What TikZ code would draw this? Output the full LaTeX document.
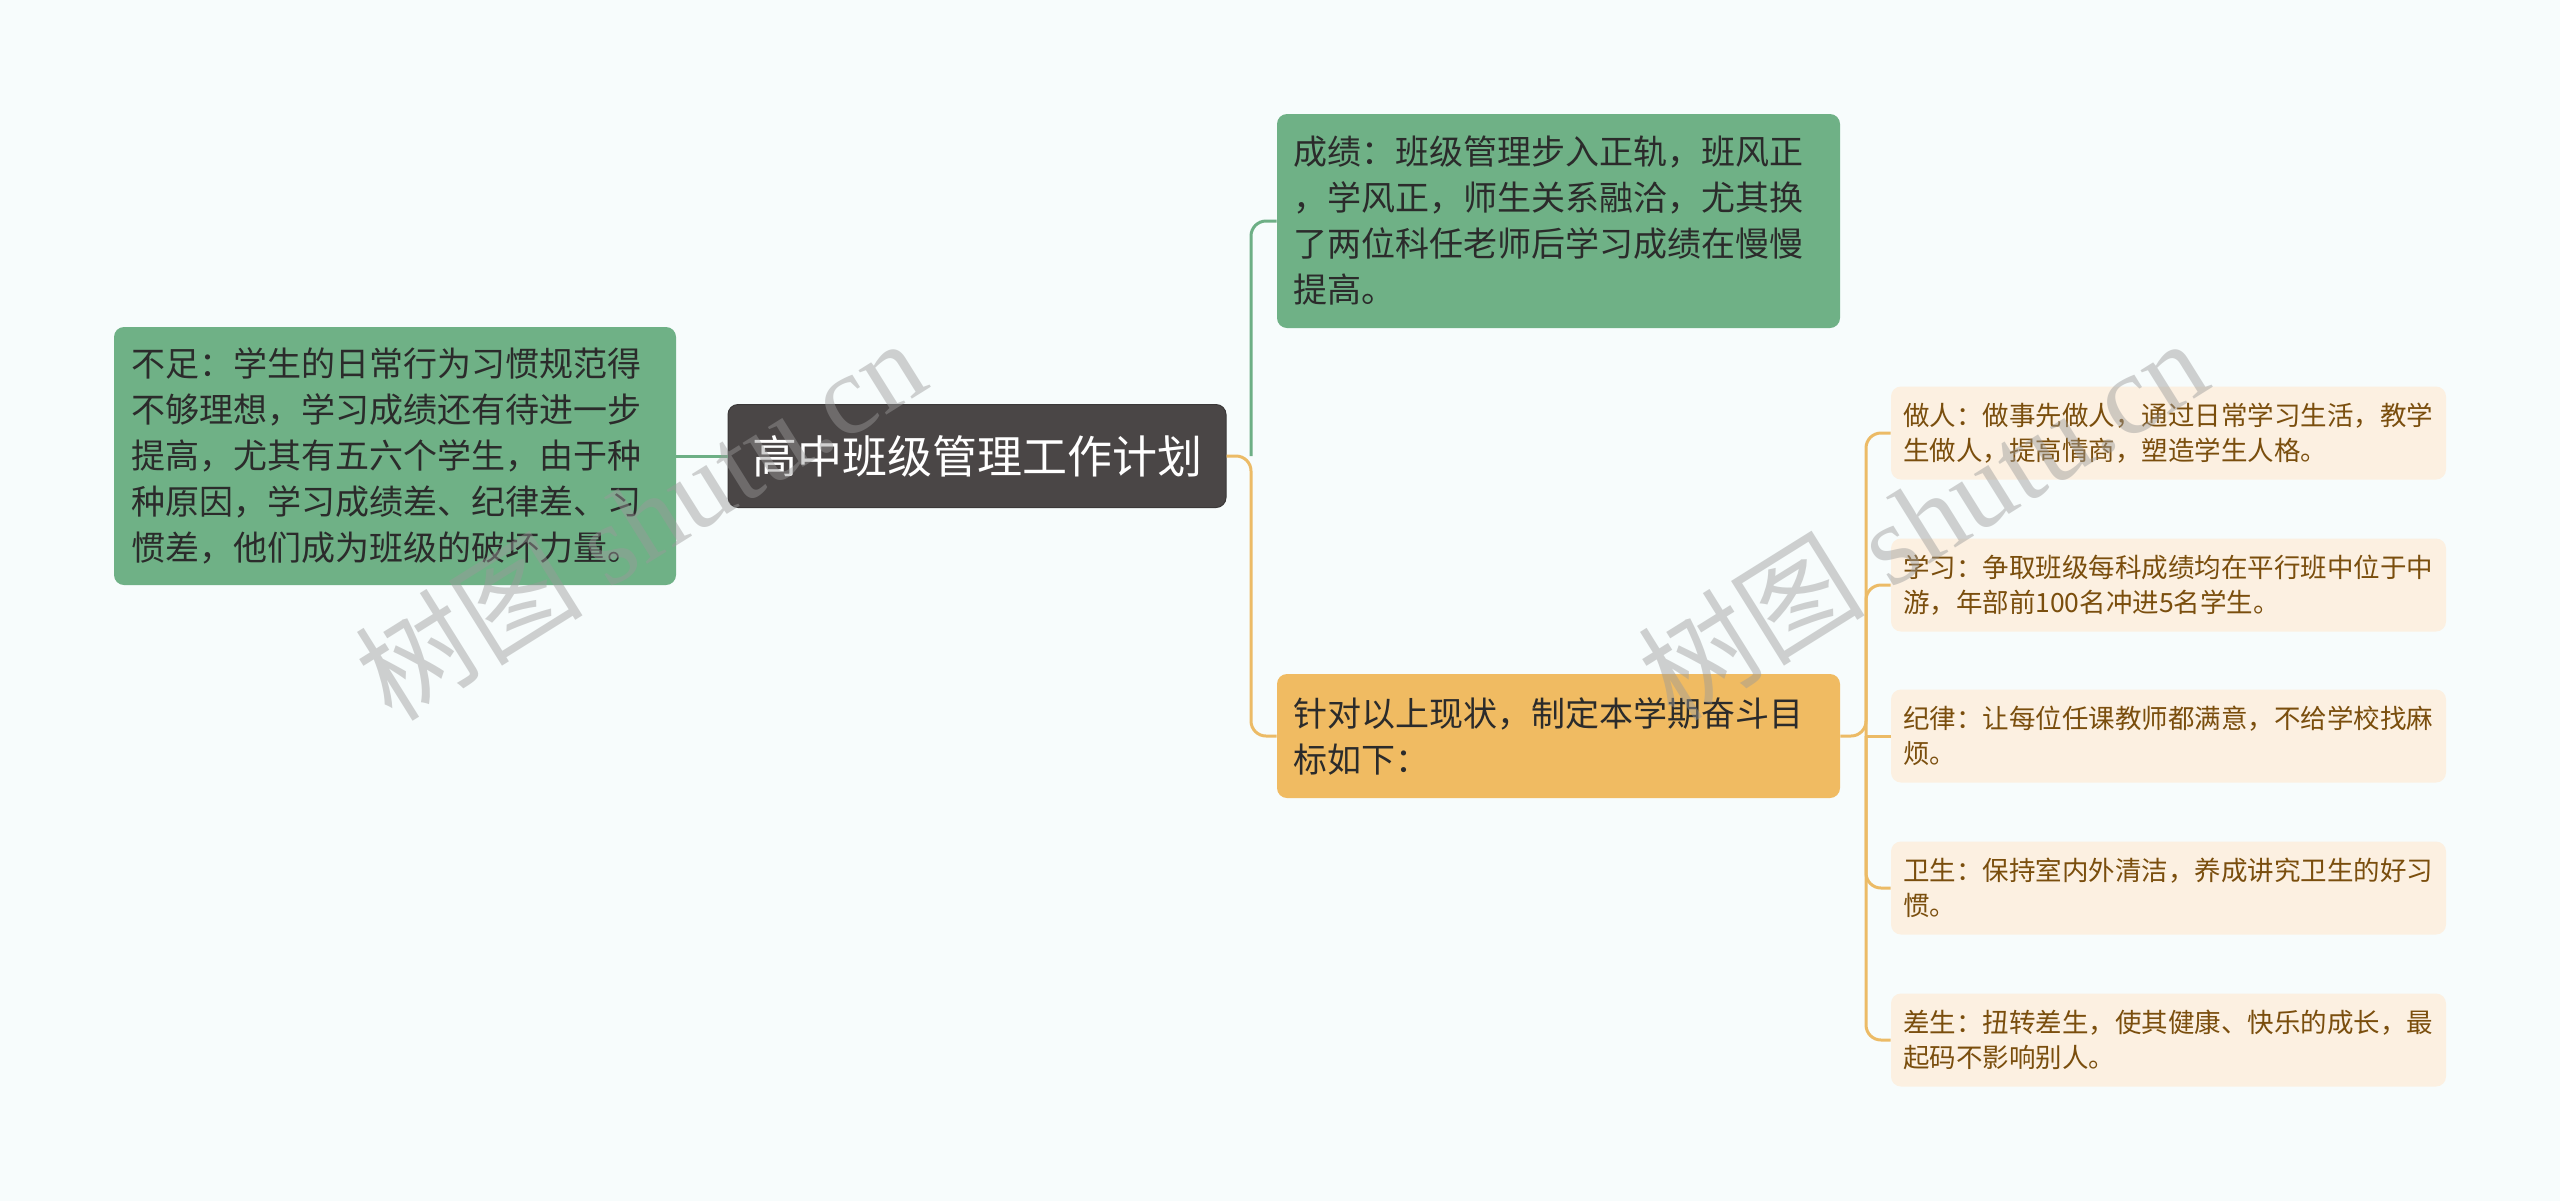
\documentclass[tikz,border=0pt]{standalone}
\usepackage{fontspec}
\setmainfont{Noto Sans CJK SC}
\newfontfamily\wmlatin{Liberation Serif}
\definecolor{bgc}{HTML}{F7FCFC}
\definecolor{greenfill}{HTML}{6FB186}
\definecolor{greenline}{HTML}{6DAF85}
\definecolor{orangefill}{HTML}{F0BB62}
\definecolor{orangeline}{HTML}{ECBB66}
\definecolor{peach}{HTML}{FCF0E1}
\definecolor{brown}{HTML}{7A4E0D}
\definecolor{darktext}{HTML}{2B2B2B}
\definecolor{rootfill}{HTML}{4A4646}
\definecolor{wmgray}{HTML}{9A9A9A}
\tikzset{
  box/.style={rectangle, rounded corners=5pt, align=left, inner ysep=0pt, anchor=center},
  greenbox/.style={box, fill=greenfill, text=darktext, font=\fontsize{17}{23}\selectfont, inner xsep=8.5pt, text width=264pt},
  orangebox/.style={box, fill=orangefill, text=darktext, font=\fontsize{17}{23}\selectfont, inner xsep=8pt, text width=265.5pt},
  subbox/.style={box, fill=peach, text=brown, font=\fontsize{13.25}{17.5}\selectfont, inner xsep=6pt, text width=265.5pt, minimum height=46.5pt},
  rootbox/.style={box, fill=rootfill, draw=rootfill!80!black, line width=0.5pt, text=white, font=\fontsize{22.5}{27}\selectfont, align=center, minimum width=249pt, minimum height=51.5pt},
  gline/.style={draw=greenline, line width=1.5pt, rounded corners=7.5pt},
  oline/.style={draw=orangeline, line width=1.5pt, rounded corners=7.5pt},
  wm/.style={text=wmgray, opacity=0.45, rotate=32, font=\fontsize{57}{57}\selectfont}
}
\begin{document}
\begin{tikzpicture}[x=0.5pt,y=-0.5pt]
\fill[bgc] (0,0) rectangle (2560,1201);
\useasboundingbox (0,0) rectangle (2560,1201);

% nodes
\node[rootbox] (root) at (977,456) {高中班级管理工作计划};
\node[greenbox, minimum height=129pt] (left) at (395,456) {不足：学生的日常行为习惯规范得\\不够理想，学习成绩还有待进一步\\提高，尤其有五六个学生，由于种\\种原因，学习成绩差、纪律差、习\\惯差，他们成为班级的破坏力量。};
\node[greenbox, inner xsep=8pt, text width=265.5pt, minimum height=107pt] (top) at (1558.5,221) {成绩：班级管理步入正轨，班风正\\，学风正，师生关系融洽，尤其换\\了两位科任老师后学习成绩在慢慢\\提高。};
\node[orangebox, minimum height=62pt] (goal) at (1558.5,736) {针对以上现状，制定本学期奋斗目\\标如下：};

\node[subbox] (s1) at (2168.5,433) {做人：做事先做人，通过日常学习生活，教学\\生做人，提高情商，塑造学生人格。};
\node[subbox] (s2) at (2168.5,585) {学习：争取班级每科成绩均在平行班中位于中\\游，年部前100名冲进5名学生。};
\node[subbox] (s3) at (2168.5,736) {纪律：让每位任课教师都满意，不给学校找麻\\烦。};
\node[subbox] (s4) at (2168.5,888) {卫生：保持室内外清洁，养成讲究卫生的好习\\惯。};
\node[subbox] (s5) at (2168.5,1040) {差生：扭转差生，使其健康、快乐的成长，最\\起码不影响别人。};

% junctions
\coordinate (j1) at (1251,456);
\coordinate (j2) at (1866,736);

% connectors
\draw[gline] (left.east) -- (root.west);
\draw[gline] (j1) |- (top.west);
\draw[oline] (root.east) -- (j1) |- (goal.west);
\draw[oline] (goal.east) -- (j2) |- (s1.west);
\draw[oline] (j2) |- (s2.west);
\draw[oline] (j2) -- (s3.west);
\draw[oline] (j2) |- (s4.west);
\draw[oline] (j2) |- (s5.west);

% watermarks
\node[wm] (wm1) at (640,518) {树图 {\wmlatin shutu.cn}};
\node[wm] (wm2) at (1922,518) {树图 {\wmlatin shutu.cn}};
\end{tikzpicture}
\end{document}
